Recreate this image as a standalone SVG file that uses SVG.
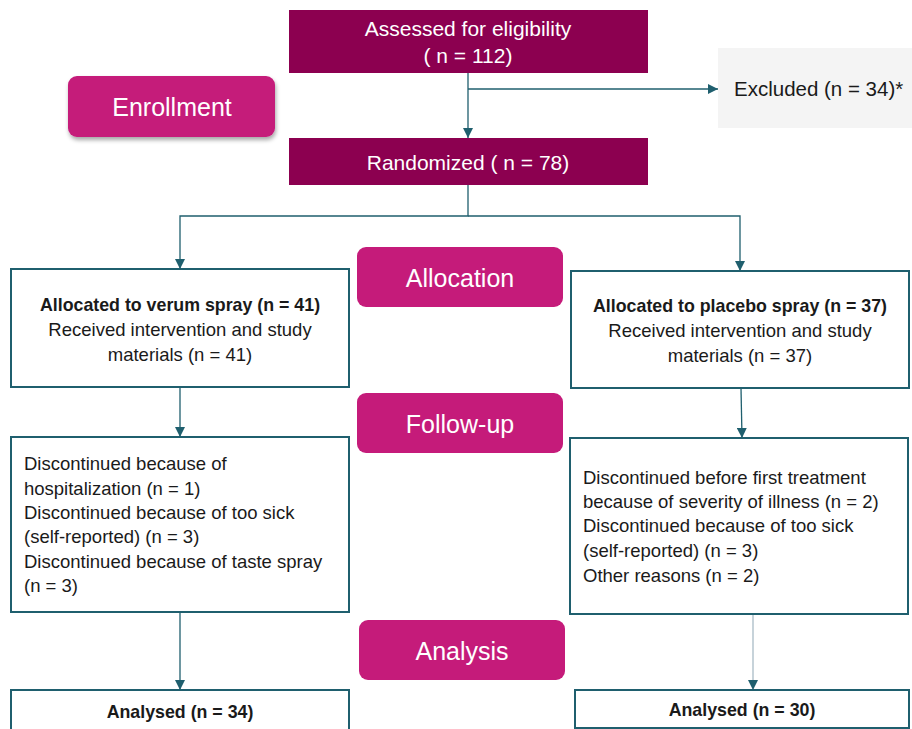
<svg xmlns="http://www.w3.org/2000/svg" width="912" height="729" viewBox="0 0 912 729">
<style>
.dark{fill:#8c0050}
.btn{fill:#c51b7a}
.box{fill:#ffffff;stroke:#1f5f6e;stroke-width:2}
.wt{fill:#ffffff;font-family:"Liberation Sans",Arial,sans-serif;font-size:21px;text-anchor:middle}
.bt{fill:#ffffff;font-family:"Liberation Sans",Arial,sans-serif;font-size:25px;text-anchor:middle}
.tx{fill:#1a1a1a;font-family:"Liberation Sans",Arial,sans-serif;font-size:18.5px}
.c{text-anchor:middle}
.b{font-weight:bold;font-size:17.8px}
.ln{fill:none;stroke:#1f5f6e;stroke-width:1.3}
</style>
<defs>
<marker id="ah" viewBox="0 0 10 10" refX="10" refY="5" markerWidth="10" markerHeight="10" markerUnits="userSpaceOnUse" orient="auto">
<path d="M0,0 L10,5 L0,10 z" fill="#1f5f6e"/>
</marker>
<filter id="sh" x="-10%" y="-10%" width="125%" height="140%">
<feDropShadow dx="1" dy="3" stdDeviation="2" flood-color="#000" flood-opacity="0.35"/>
</filter>
</defs>
<rect width="912" height="729" fill="#ffffff"/>

<g id="connectors">
<line class="ln" x1="468" y1="73" x2="468" y2="138" marker-end="url(#ah)"/>
<line class="ln" x1="468" y1="89" x2="718" y2="89" marker-end="url(#ah)"/>
<polyline class="ln" points="468,185 468,216 180,216 180,269" marker-end="url(#ah)"/>
<polyline class="ln" points="468,216 740,216 740,271" marker-end="url(#ah)"/>
<line class="ln" x1="180" y1="387" x2="180" y2="437" marker-end="url(#ah)"/>
<line class="ln" x1="741" y1="388" x2="742" y2="438" marker-end="url(#ah)"/>
<line class="ln" x1="180" y1="612" x2="180" y2="690" marker-end="url(#ah)"/>
<line class="ln" x1="753" y1="614" x2="753" y2="690" marker-end="url(#ah)" style="stroke:#a9bcc6"/>
</g>

<g id="assessed">
<rect class="dark" x="289" y="10" width="359" height="63"/>
<text class="wt" x="468" y="36">Assessed for eligibility</text>
<text class="wt" x="468" y="63">( n = 112)</text>
</g>

<g id="excluded">
<rect x="718" y="48" width="194" height="80" fill="#f4f4f4"/>
<text class="tx" x="734" y="96" style="font-size:20.5px">Excluded (n = 34)*</text>
</g>

<g id="enrollment">
<rect class="btn" x="68" y="76" width="207" height="61" rx="9" filter="url(#sh)"/>
<text class="bt" x="172" y="116">Enrollment</text>
</g>

<g id="randomized">
<rect class="dark" x="289" y="138" width="359" height="47"/>
<text class="wt" x="468" y="170">Randomized ( n = 78)</text>
</g>

<g id="allocation">
<rect class="btn" x="357" y="247" width="206" height="60" rx="9"/>
<text class="bt" x="460" y="287">Allocation</text>
</g>

<g id="alloc-verum">
<rect class="box" x="11" y="269" width="338" height="118"/>
<text class="tx c b" x="180" y="311">Allocated to verum spray (n = 41)</text>
<text class="tx c" x="180" y="336">Received intervention and study</text>
<text class="tx c" x="180" y="361">materials (n = 41)</text>
</g>

<g id="alloc-placebo">
<rect class="box" x="571" y="271" width="338" height="117"/>
<text class="tx c b" x="740" y="312">Allocated to placebo spray (n = 37)</text>
<text class="tx c" x="740" y="337">Received intervention and study</text>
<text class="tx c" x="740" y="362">materials (n = 37)</text>
</g>

<g id="followup">
<rect class="btn" x="357" y="393" width="206" height="60" rx="9"/>
<text class="bt" x="460" y="433">Follow-up</text>
</g>

<g id="follow-verum">
<rect class="box" x="11" y="437" width="338" height="175"/>
<text class="tx" x="24" y="470">Discontinued because of</text>
<text class="tx" x="24" y="495">hospitalization (n = 1)</text>
<text class="tx" x="24" y="519">Discontinued because of too sick</text>
<text class="tx" x="24" y="543">(self-reported) (n = 3)</text>
<text class="tx" x="24" y="568">Discontinued because of taste spray</text>
<text class="tx" x="24" y="592">(n = 3)</text>
</g>

<g id="follow-placebo">
<rect class="box" x="570" y="438" width="338" height="176"/>
<text class="tx" x="583" y="484">Discontinued before first treatment</text>
<text class="tx" x="583" y="508">because of severity of illness (n = 2)</text>
<text class="tx" x="583" y="532">Discontinued because of too sick</text>
<text class="tx" x="583" y="557">(self-reported) (n = 3)</text>
<text class="tx" x="583" y="582">Other reasons (n = 2)</text>
</g>

<g id="analysis">
<rect class="btn" x="359" y="620" width="206" height="60" rx="9"/>
<text class="bt" x="462" y="660">Analysis</text>
</g>

<g id="analysed-verum">
<rect class="box" x="11" y="690" width="338" height="45"/>
<text class="tx c b" x="180" y="718">Analysed (n = 34)</text>
</g>

<g id="analysed-placebo">
<rect class="box" x="575" y="690" width="334" height="38"/>
<text class="tx c b" x="742" y="716">Analysed (n = 30)</text>
</g>
</svg>
